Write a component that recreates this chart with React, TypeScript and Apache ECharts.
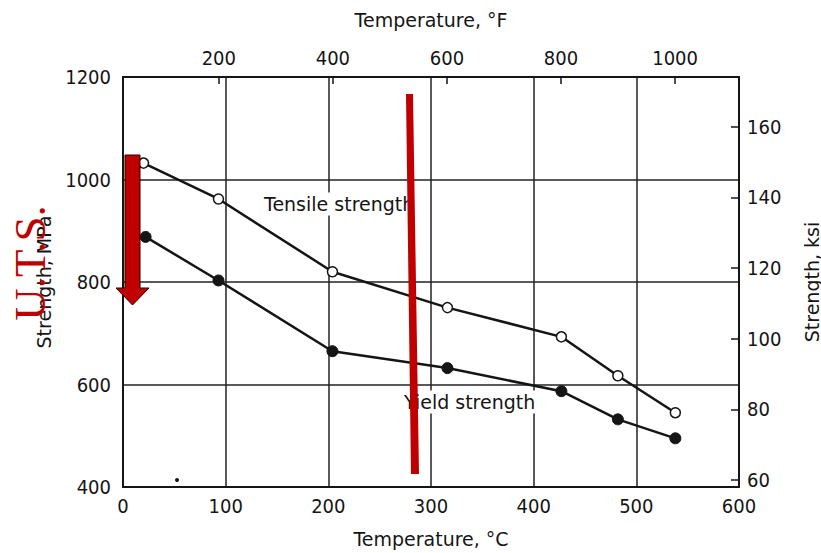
import React, { useEffect, useRef } from "react";
import * as echarts from "echarts";

// Temperatures (°C) and strengths (MPa)
const tensileTempC = [20, 93, 204, 316, 427, 482, 538];
const tensileMPa = [1032, 962, 820, 750, 693, 617, 545];
const yieldTempC = [22, 93, 204, 316, 427, 482, 538];
const yieldMPa = [888, 803, 665, 632, 587, 532, 495];

// Secondary axes tick labels
const fahrenheitTicks = [200, 400, 600, 800, 1000];
const ksiTicks = [60, 80, 100, 120, 140, 160];

const MPA_PER_KSI = 6.894757;
const C_MIN = 0;
const C_MAX = 600;
const MPA_MIN = 400;
const MPA_MAX = 1200;

const TICK_FONT = "'Liberation Sans Narrow', 'DejaVu Sans Condensed', 'Liberation Sans', sans-serif";
const NAME_FONT = "'DejaVu Sans', 'Liberation Sans', sans-serif";
const INK = "#151515";
const RED = "#C00000";

const plain = (v: number) => String(Math.round(v));

export default function App() {
  const ref = useRef<HTMLDivElement>(null);

  useEffect(() => {
    if (!ref.current) return;
    const chart = echarts.init(ref.current, undefined, { renderer: "svg" });

    const tickLabel = { color: INK, fontSize: 20, fontFamily: TICK_FONT, formatter: plain };
    const nameStyle = { color: INK, fontSize: 19, fontFamily: NAME_FONT };
    const axisLine = { show: true, lineStyle: { color: INK, width: 2 } };
    const gridLine = { show: true, lineStyle: { color: "#222", width: 1.5 } };

    const option: any = {
      animation: false,
      backgroundColor: "#ffffff",
      grid: {
        left: 123,
        right: 82,
        top: 77,
        bottom: 66,
        containLabel: false,
        outerBoundsMode: "none",
      },
      xAxis: [
        {
          type: "value",
          position: "bottom",
          min: C_MIN,
          max: C_MAX,
          interval: 100,
          name: "Temperature, °C",
          nameLocation: "middle",
          nameGap: 42,
          nameTextStyle: nameStyle,
          axisLine,
          axisTick: { show: false },
          axisLabel: { ...tickLabel, margin: 9 },
          splitLine: gridLine,
        },
        {
          type: "value",
          position: "top",
          min: C_MIN * 1.8 + 32,
          max: C_MAX * 1.8 + 32,
          name: "Temperature, °F",
          nameLocation: "middle",
          nameGap: 48,
          nameTextStyle: nameStyle,
          axisLine,
          axisTick: {
            show: true,
            inside: true,
            length: 7,
            customValues: fahrenheitTicks,
            lineStyle: { color: INK, width: 1.5 },
          },
          axisLabel: { ...tickLabel, margin: 9, customValues: fahrenheitTicks },
          splitLine: { show: false },
        },
      ],
      yAxis: [
        {
          type: "value",
          position: "left",
          min: MPA_MIN,
          max: MPA_MAX,
          interval: 200,
          name: "Strength, MPa",
          nameLocation: "middle",
          nameGap: 70,
          nameTextStyle: nameStyle,
          axisLine,
          axisTick: { show: false },
          axisLabel: { ...tickLabel, margin: 12 },
          splitLine: gridLine,
        },
        {
          type: "value",
          position: "right",
          min: MPA_MIN / MPA_PER_KSI,
          max: MPA_MAX / MPA_PER_KSI,
          name: "Strength, ksi",
          nameLocation: "middle",
          nameGap: 63,
          nameTextStyle: nameStyle,
          axisLine,
          axisTick: {
            show: true,
            inside: true,
            length: 8,
            customValues: ksiTicks,
            lineStyle: { color: INK, width: 1.5 },
          },
          axisLabel: { ...tickLabel, margin: 8, customValues: ksiTicks },
          splitLine: { show: false },
        },
      ],
      series: [
        {
          name: "Tensile strength",
          type: "line",
          xAxisIndex: 0,
          yAxisIndex: 0,
          data: tensileTempC.map((t, i) => [t, tensileMPa[i]]),
          symbol: "circle",
          symbolSize: 10,
          lineStyle: { color: INK, width: 2.5 },
          itemStyle: { color: "#ffffff", borderColor: INK, borderWidth: 1.5 },
          z: 5,
        },
        {
          name: "Yield strength",
          type: "line",
          xAxisIndex: 0,
          yAxisIndex: 0,
          data: yieldTempC.map((t, i) => [t, yieldMPa[i]]),
          symbol: "circle",
          symbolSize: 11,
          lineStyle: { color: INK, width: 2.5 },
          itemStyle: { color: INK, borderColor: INK, borderWidth: 1 },
          z: 5,
        },
      ],
      graphic: [
        {
          type: "text",
          x: 262,
          y: 204,
          z: 50,
          style: {
            text: "Tensile strength",
            fontSize: 19,
            fontFamily: NAME_FONT,
            fill: INK,
            verticalAlign: "middle",
            backgroundColor: "#ffffff",
            padding: [2, 2],
          },
        },
        {
          type: "text",
          x: 402,
          y: 402,
          z: 50,
          style: {
            text: "Yield strength",
            fontSize: 19,
            fontFamily: NAME_FONT,
            fill: INK,
            verticalAlign: "middle",
            backgroundColor: "#ffffff",
            padding: [2, 2],
          },
        },
        {
          type: "circle",
          z: 50,
          shape: { cx: 177, cy: 480, r: 2 },
          style: { fill: INK },
        },
        {
          type: "polygon",
          z: 100,
          shape: {
            points: [
              [406, 94],
              [413, 94],
              [419, 474],
              [411, 474],
            ],
          },
          style: { fill: RED },
        },
        {
          type: "polygon",
          z: 100,
          shape: {
            points: [
              [125, 155],
              [140, 155],
              [140, 288],
              [149, 288],
              [132.5, 305],
              [116, 288],
              [125, 288],
            ],
          },
          style: { fill: RED, stroke: "#2a0000", lineWidth: 1 },
        },
        {
          type: "text",
          x: 30,
          y: 263,
          rotation: Math.PI / 2,
          z: 100,
          style: {
            text: "U.T.S.",
            fontSize: 45,
            fontFamily: "'Liberation Serif', 'DejaVu Serif', serif",
            fill: RED,
            align: "center",
            verticalAlign: "middle",
          },
        },
      ],
    };

    chart.setOption(option);
    return () => chart.dispose();
  }, []);

  return (
    <div
      ref={ref}
      style={{ position: "fixed", left: 0, top: 0, width: 821, height: 553, background: "#fff" }}
    />
  );
}
